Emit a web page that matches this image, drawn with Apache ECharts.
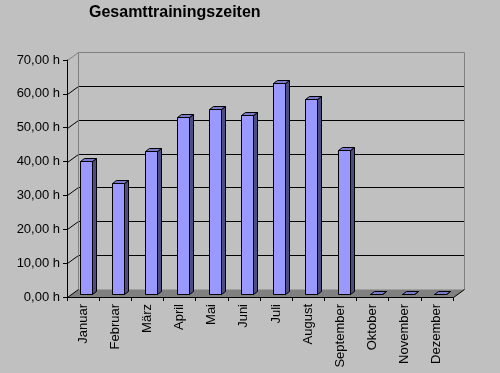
<!DOCTYPE html>
<html><head><meta charset="utf-8">
<script src="https://cdn.jsdelivr.net/npm/echarts@6/dist/echarts.min.js"></script>
<style>html,body{margin:0;padding:0;background:#c0c0c0}#c{width:500px;height:373px}</style>
</head><body><div id="c"></div>
<script>
const titleText = 'Gesamttrainingszeiten';
const months = ['Januar','Februar','März','April','Mai','Juni','Juli','August','September','Oktober','November','Dezember'];
const hours = [39.5, 33.0, 42.4, 52.4, 54.7, 52.9, 62.4, 57.6, 42.7, 0, 0, 0];
const yTicks = [0, 10, 20, 30, 40, 50, 60, 70];

const DX = 10.5, DY = -8.5;   // depth of the 3D box
const D0 = 0.3, D1 = 0.7;     // bar depth range (fraction)
const BAR = 0.385;            // bar width fraction of band
const px = v => Math.round(v) + 0.5;

const chart = echarts.init(document.getElementById('c'), null, {renderer: 'canvas'});

function wallsRender(params, api) {
  const bw = api.size([1, 0])[0];
  const xl = px(api.coord([0, 0])[0] - bw / 2);
  const xr = px(api.coord([months.length - 1, 0])[0] + bw / 2);
  const y0 = px(api.coord([0, 0])[1]);
  const yTopV = yTicks[yTicks.length - 1];
  const yTop = px(api.coord([0, yTopV])[1]);
  const bxl = px(xl + DX), bxr = px(xr + DX);
  const by0 = px(y0 + DY), byTop = px(yTop + DY);
  const ch = [];
  ch.push({type: 'polygon', shape: {points: [[xl, y0], [xr, y0], [bxr, by0], [bxl, by0]]}, style: {fill: '#808080', stroke: null}});
  yTicks.forEach(t => {
    if (t === 0) return;
    const y = px(api.coord([0, t])[1]);
    const by = px(y + DY);
    const col = t === yTopV ? '#808080' : '#000000';
    ch.push({type: 'line', shape: {x1: bxl, y1: by, x2: bxr, y2: by}, style: {stroke: col, lineWidth: 1}});
    ch.push({type: 'line', shape: {x1: xl, y1: y, x2: bxl, y2: by}, style: {stroke: col, lineWidth: 1}});
  });
  ch.push({type: 'line', shape: {x1: bxl, y1: byTop, x2: bxl, y2: by0}, style: {stroke: '#808080', lineWidth: 1}});
  ch.push({type: 'line', shape: {x1: bxr, y1: byTop, x2: bxr, y2: by0}, style: {stroke: '#808080', lineWidth: 1}});
  ch.push({type: 'line', shape: {x1: xl, y1: y0, x2: bxl, y2: by0}, style: {stroke: '#000000', lineWidth: 1}});
  ch.push({type: 'line', shape: {x1: xr, y1: y0, x2: bxr, y2: by0}, style: {stroke: '#000000', lineWidth: 1}});
  return {type: 'group', children: ch};
}

function barRender(params, api) {
  const i = api.value(0), v = api.value(1);
  const bw = api.size([1, 0])[0];
  const base = api.coord([i, 0]);
  const top = api.coord([i, v]);
  const w = Math.round(bw * BAR);
  const fx = px(base[0] + D0 * DX - w / 2);
  const fy0 = px(base[1] + D0 * DY);
  const fy1 = px(top[1] + D0 * DY);
  const ddx = Math.round((D1 - D0) * DX), ddy = Math.round((D1 - D0) * DY);
  const st = {stroke: '#000000', lineWidth: 1};
  return {type: 'group', children: [
    {type: 'polygon', shape: {points: [[fx + w, fy1], [fx + w + ddx, fy1 + ddy], [fx + w + ddx, fy0 + ddy], [fx + w, fy0]]},
      style: Object.assign({fill: '#4d4d80'}, st)},
    {type: 'polygon', shape: {points: [[fx, fy1], [fx + w, fy1], [fx + w + ddx, fy1 + ddy], [fx + ddx, fy1 + ddy]]},
      style: Object.assign({fill: '#7a7acc'}, st)},
    {type: 'rect', shape: {x: fx, y: fy1, width: w, height: fy0 - fy1},
      style: Object.assign({fill: '#9999ff'}, st)}
  ]};
}

chart.setOption({
  animation: false,
  backgroundColor: '#c0c0c0',
  textStyle: {fontFamily: 'Arial, "Liberation Sans", sans-serif'},
  title: {text: titleText, left: 89, top: 5, padding: 0,
    textStyle: {fontSize: 16, fontWeight: 'bold', color: '#000', fontFamily: 'Arial, "Liberation Sans", sans-serif'}},
  grid: {left: 67, right: 47, top: 60, bottom: 76},
  xAxis: {type: 'category', data: months, boundaryGap: true, z: 5,
    axisLine: {lineStyle: {color: '#000', width: 1}},
    axisTick: {show: true, length: 4, lineStyle: {color: '#000'}},
    axisLabel: {rotate: 90, interval: 0, margin: 7, fontSize: 13, color: '#000'}},
  yAxis: {type: 'value', min: 0, max: 70, interval: 10, z: 5,
    axisLine: {show: true, lineStyle: {color: '#000', width: 1}},
    axisTick: {show: true, length: 4, lineStyle: {color: '#000'}},
    splitLine: {show: false},
    axisLabel: {margin: 7, fontSize: 13, color: '#000',
      formatter: v => v.toFixed(2).replace('.', ',') + ' h'}},
  series: [
    {type: 'custom', z: 1, clip: false, silent: true, renderItem: wallsRender, data: [[0, 0]]},
    {type: 'custom', z: 2, clip: false, renderItem: barRender, data: months.map((m, i) => [i, hours[i]])}
  ]
});
</script>
</body></html>
